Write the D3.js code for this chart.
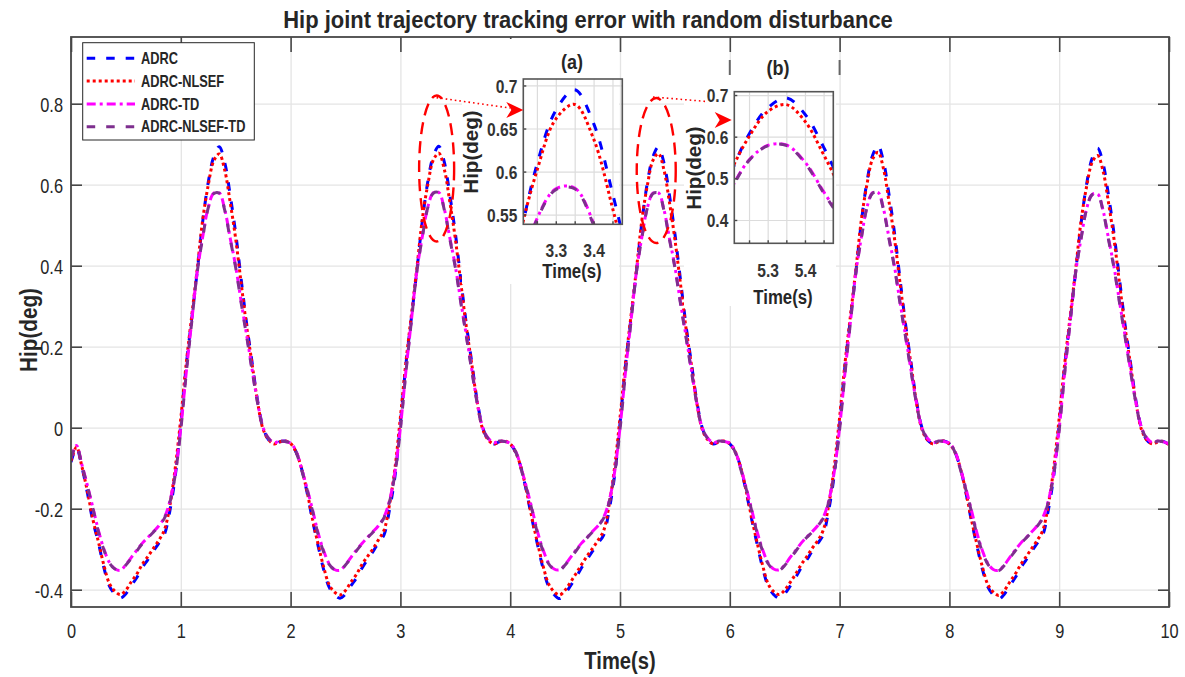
<!DOCTYPE html>
<html>
<head>
<meta charset="utf-8">
<script src="https://cdn.jsdelivr.net/npm/d3@7"></script>
<style>
  body { margin: 0; background: #fff; }
  svg { display: block; }
  text { font-family: "Liberation Sans", Arial, Helvetica, sans-serif; fill: #262626; }
</style>
</head>
<body>
<svg id="chart" width="1185" height="677"></svg>
<script>
// sampled every 0.05 s, 0 .. 10 s (one row = one 2 s gait cycle)
const time = d3.range(201).map(i => +(i * 0.05).toFixed(2));

const adrc = [
  -0.085,-0.050,-0.098,-0.162,-0.232,-0.284,-0.346,-0.391,-0.411,-0.421, -0.410,-0.389,-0.370,-0.345,-0.326,-0.305,-0.285,-0.264,-0.206,-0.118,
   0.008, 0.155, 0.270, 0.387, 0.510, 0.606, 0.669, 0.694, 0.655, 0.574,  0.480, 0.366, 0.256, 0.160, 0.066, 0.000,-0.030,-0.040,-0.035,-0.033,
  -0.039,-0.060,-0.101,-0.160,-0.229,-0.291,-0.349,-0.393,-0.413,-0.421, -0.411,-0.390,-0.371,-0.347,-0.326,-0.306,-0.284,-0.265,-0.204,-0.121,
   0.011, 0.156, 0.271, 0.388, 0.511, 0.608, 0.671, 0.695, 0.656, 0.575,  0.481, 0.367, 0.257, 0.161, 0.066, 0.000,-0.030,-0.040,-0.035,-0.033,
  -0.040,-0.061,-0.100,-0.160,-0.228,-0.290,-0.348,-0.392,-0.412,-0.422, -0.410,-0.390,-0.369,-0.346,-0.325,-0.305,-0.285,-0.266,-0.205,-0.120,
   0.010, 0.154, 0.270, 0.386, 0.509, 0.606, 0.669, 0.693, 0.654, 0.575,  0.479, 0.367, 0.255, 0.160, 0.065,-0.001,-0.030,-0.040,-0.035,-0.033,
  -0.040,-0.060,-0.099,-0.159,-0.227,-0.289,-0.347,-0.392,-0.412,-0.421, -0.410,-0.391,-0.370,-0.346,-0.327,-0.305,-0.286,-0.265,-0.205,-0.119,
   0.010, 0.156, 0.272, 0.389, 0.512, 0.609, 0.672, 0.697, 0.657, 0.576,  0.481, 0.368, 0.257, 0.161, 0.066, 0.000,-0.030,-0.040,-0.035,-0.033,
  -0.040,-0.060,-0.100,-0.160,-0.229,-0.291,-0.349,-0.393,-0.413,-0.423, -0.411,-0.390,-0.370,-0.346,-0.326,-0.305,-0.285,-0.265,-0.205,-0.120,
   0.009, 0.153, 0.268, 0.385, 0.506, 0.602, 0.665, 0.690, 0.652, 0.572,  0.478, 0.365, 0.254, 0.159, 0.065,-0.001,-0.031,-0.040,-0.035,-0.034,
  -0.042
];

const adrcNlsef = [
  -0.082,-0.048,-0.097,-0.158,-0.227,-0.282,-0.340,-0.385,-0.404,-0.412, -0.401,-0.380,-0.361,-0.337,-0.318,-0.298,-0.278,-0.253,-0.193,-0.098,
   0.023, 0.160, 0.277, 0.393, 0.514, 0.599, 0.659, 0.676, 0.636, 0.556,  0.466, 0.356, 0.249, 0.156, 0.062,-0.004,-0.030,-0.040,-0.035,-0.033,
  -0.039,-0.060,-0.101,-0.158,-0.226,-0.287,-0.343,-0.387,-0.406,-0.413, -0.402,-0.381,-0.362,-0.338,-0.318,-0.299,-0.277,-0.254,-0.191,-0.101,
   0.026, 0.161, 0.278, 0.394, 0.516, 0.601, 0.661, 0.678, 0.638, 0.558,  0.467, 0.358, 0.250, 0.157, 0.062,-0.004,-0.030,-0.040,-0.035,-0.033,
  -0.040,-0.061,-0.100,-0.158,-0.225,-0.286,-0.342,-0.386,-0.405,-0.413, -0.401,-0.381,-0.360,-0.338,-0.317,-0.298,-0.278,-0.255,-0.192,-0.100,
   0.024, 0.159, 0.276, 0.392, 0.514, 0.600, 0.660, 0.677, 0.637, 0.557,  0.465, 0.357, 0.248, 0.156, 0.061,-0.005,-0.030,-0.040,-0.035,-0.033,
  -0.040,-0.060,-0.099,-0.157,-0.224,-0.285,-0.341,-0.386,-0.405,-0.412, -0.401,-0.382,-0.361,-0.338,-0.319,-0.298,-0.279,-0.254,-0.192,-0.099,
   0.025, 0.161, 0.279, 0.395, 0.517, 0.602, 0.663, 0.680, 0.639, 0.558,  0.467, 0.358, 0.250, 0.157, 0.062,-0.004,-0.030,-0.040,-0.035,-0.033,
  -0.040,-0.060,-0.100,-0.158,-0.226,-0.287,-0.343,-0.387,-0.406,-0.414, -0.402,-0.381,-0.361,-0.338,-0.318,-0.298,-0.278,-0.254,-0.192,-0.100,
   0.024, 0.158, 0.275, 0.391, 0.512, 0.596, 0.655, 0.672, 0.633, 0.554,  0.464, 0.355, 0.247, 0.155, 0.061,-0.005,-0.031,-0.040,-0.035,-0.034,
  -0.042
];

const adrcTd = [
  -0.075,-0.044,-0.092,-0.143,-0.198,-0.254,-0.300,-0.333,-0.348,-0.352, -0.338,-0.320,-0.302,-0.285,-0.271,-0.257,-0.242,-0.222,-0.182,-0.111,
   0.000, 0.138, 0.264, 0.386, 0.472, 0.544, 0.579, 0.580, 0.539, 0.468,  0.398, 0.311, 0.228, 0.143, 0.062, 0.000,-0.026,-0.037,-0.033,-0.034,
  -0.038,-0.058,-0.101,-0.150,-0.203,-0.259,-0.303,-0.335,-0.350,-0.352, -0.338,-0.320,-0.302,-0.286,-0.271,-0.257,-0.242,-0.221,-0.181,-0.110,
   0.001, 0.139, 0.265, 0.387, 0.473, 0.545, 0.580, 0.581, 0.540, 0.469,  0.399, 0.312, 0.229, 0.144, 0.062, 0.000,-0.026,-0.037,-0.033,-0.034,
  -0.039,-0.058,-0.100,-0.149,-0.202,-0.258,-0.302,-0.334,-0.349,-0.351, -0.338,-0.320,-0.302,-0.285,-0.271,-0.256,-0.242,-0.222,-0.182,-0.111,
   0.000, 0.138, 0.264, 0.386, 0.472, 0.544, 0.579, 0.580, 0.539, 0.468,  0.398, 0.311, 0.228, 0.143, 0.061,-0.001,-0.026,-0.037,-0.033,-0.034,
  -0.038,-0.059,-0.100,-0.149,-0.203,-0.258,-0.302,-0.334,-0.349,-0.351, -0.339,-0.320,-0.303,-0.285,-0.270,-0.257,-0.242,-0.222,-0.182,-0.111,
   0.000, 0.139, 0.265, 0.387, 0.473, 0.545, 0.580, 0.581, 0.540, 0.469,  0.398, 0.311, 0.228, 0.143, 0.062, 0.000,-0.026,-0.037,-0.033,-0.034,
  -0.038,-0.058,-0.100,-0.150,-0.203,-0.259,-0.303,-0.335,-0.350,-0.352, -0.339,-0.320,-0.302,-0.285,-0.271,-0.257,-0.242,-0.222,-0.182,-0.111,
  -0.001, 0.137, 0.263, 0.384, 0.469, 0.541, 0.576, 0.577, 0.536, 0.466,  0.396, 0.310, 0.227, 0.142, 0.061, 0.000,-0.026,-0.037,-0.033,-0.035,
  -0.040
];

const adrcNlsefTd = [
  -0.075,-0.045,-0.094,-0.145,-0.200,-0.257,-0.302,-0.334,-0.349,-0.353, -0.339,-0.322,-0.304,-0.286,-0.272,-0.258,-0.243,-0.224,-0.185,-0.115,
  -0.005, 0.135, 0.262, 0.385, 0.470, 0.543, 0.578, 0.579, 0.537, 0.465,  0.395, 0.308, 0.225, 0.140, 0.060,-0.002,-0.027,-0.038,-0.033,-0.034,
  -0.038,-0.060,-0.104,-0.153,-0.206,-0.263,-0.306,-0.337,-0.351,-0.353, -0.339,-0.322,-0.304,-0.287,-0.272,-0.258,-0.243,-0.223,-0.184,-0.114,
  -0.004, 0.136, 0.263, 0.386, 0.471, 0.544, 0.579, 0.580, 0.538, 0.466,  0.396, 0.309, 0.226, 0.141, 0.060,-0.002,-0.027,-0.038,-0.033,-0.034,
  -0.039,-0.060,-0.103,-0.152,-0.205,-0.262,-0.305,-0.336,-0.350,-0.352, -0.339,-0.321,-0.304,-0.286,-0.272,-0.257,-0.243,-0.224,-0.185,-0.115,
  -0.005, 0.135, 0.262, 0.385, 0.470, 0.543, 0.578, 0.579, 0.537, 0.465,  0.395, 0.308, 0.225, 0.140, 0.059,-0.003,-0.027,-0.038,-0.033,-0.034,
  -0.038,-0.061,-0.103,-0.152,-0.206,-0.262,-0.305,-0.336,-0.350,-0.352, -0.340,-0.322,-0.305,-0.286,-0.271,-0.258,-0.243,-0.224,-0.185,-0.115,
  -0.005, 0.136, 0.263, 0.386, 0.471, 0.544, 0.579, 0.580, 0.538, 0.466,  0.395, 0.308, 0.225, 0.140, 0.060,-0.002,-0.027,-0.038,-0.033,-0.034,
  -0.038,-0.060,-0.103,-0.153,-0.206,-0.263,-0.306,-0.337,-0.351,-0.353, -0.340,-0.322,-0.304,-0.286,-0.272,-0.258,-0.243,-0.224,-0.185,-0.115,
  -0.006, 0.134, 0.261, 0.383, 0.468, 0.540, 0.575, 0.576, 0.534, 0.463,  0.393, 0.307, 0.224, 0.139, 0.059,-0.002,-0.027,-0.038,-0.033,-0.035,
  -0.040
];

const xTicks = [0, 1, 2, 3, 4, 5, 6, 7, 8, 9, 10];
const yTicks = [-0.4, -0.2, 0, 0.2, 0.4, 0.6, 0.8];
const yTickLabels = ['-0.4', '-0.2', '0', '0.2', '0.4', '0.6', '0.8'];

const insetATicksX = [3.25, 3.3, 3.35, 3.4, 3.45];
const insetALabelsX = ['', '3.3', '', '3.4', ''];
const insetATicksY = [0.55, 0.6, 0.65, 0.7];
const insetALabelsY = ['0.55', '0.6', '0.65', '0.7'];
const insetBTicksX = [5.25, 5.3, 5.35, 5.4, 5.45];
const insetBLabelsX = ['', '5.3', '', '5.4', ''];
const insetBTicksY = [0.4, 0.5, 0.6, 0.7];
const insetBLabelsY = ['0.4', '0.5', '0.6', '0.7'];

const series = [
  { name: 'ADRC', values: adrc, color: '#0000ff', dash: '8.5,11' },
  { name: 'ADRC-NLSEF', values: adrcNlsef, color: '#ff0000', dash: '3,3' },
  { name: 'ADRC-TD', values: adrcTd, color: '#ff00ff', dash: '9,4,3,4' },
  { name: 'ADRC-NLSEF-TD', values: adrcNlsefTd, color: '#7e2f8e', dash: '8.5,11' }
];

const SX = 0.78; // the figure's lettering is condensed
const axisColor = '#474747';
const gridColor = '#e4e4e4';

const svg = d3.select('#chart');
const box = { left: 71, right: 1169, top: 37, bottom: 607 };

const x = d3.scaleLinear().domain([0, 10]).range([box.left, box.right]);
const y = d3.scaleLinear().domain([-0.4427, 0.9647]).range([box.bottom, box.top]);

function hText(g, px, py, str, size, weight, anchor, sx = SX) {
  return g.append('text')
    .attr('transform', `translate(${px},${py}) scale(${sx},1)`)
    .attr('text-anchor', anchor || 'middle')
    .attr('dy', '0.35em')
    .style('font-size', size + 'px')
    .style('font-weight', weight || 'normal')
    .text(str);
}

// rotated labels keep their full letter height
function vText(g, px, py, str, size, len = 0.92) {
  return g.append('text')
    .attr('transform', `translate(${px},${py}) rotate(-90) scale(${len},1)`)
    .attr('text-anchor', 'middle')
    .attr('dy', '0.35em')
    .style('font-size', size + 'px')
    .style('font-weight', 'bold')
    .text(str);
}

function lineFor(xs, ys) {
  return d3.line()
    .x((d, i) => xs(time[i]))
    .y(d => ys(d))
    .curve(d3.curveCatmullRom.alpha(0.5));
}

function drawSeries(g, xs, ys) {
  const gen = lineFor(xs, ys);
  g.selectAll('path.series')
    .data(series)
    .enter()
    .append('path')
    .attr('class', 'series')
    .attr('d', d => gen(d.values))
    .attr('fill', 'none')
    .attr('stroke', d => d.color)
    .attr('stroke-width', 3)
    .attr('stroke-dasharray', d => d.dash);
}

// ---- main axes ----
const defs = svg.append('defs');
defs.append('clipPath').attr('id', 'clipMain')
  .append('rect')
  .attr('x', box.left).attr('y', box.top)
  .attr('width', box.right - box.left).attr('height', box.bottom - box.top);

const grid = svg.append('g');
grid.append('g')
  .attr('transform', `translate(0,${box.bottom})`)
  .call(d3.axisBottom(x).tickValues(xTicks).tickSize(-(box.bottom - box.top)).tickFormat(''));
grid.append('g')
  .attr('transform', `translate(${box.left},0)`)
  .call(d3.axisLeft(y).tickValues(yTicks).tickSize(-(box.right - box.left)).tickFormat(''));
grid.selectAll('.domain').remove();
grid.selectAll('line').attr('stroke', gridColor).attr('stroke-width', 1.3);

const curves = svg.append('g').attr('clip-path', 'url(#clipMain)');
drawSeries(curves, x, y);

const axes = svg.append('g');
const gx = axes.append('g')
  .attr('transform', `translate(0,${box.bottom})`)
  .call(d3.axisBottom(x).tickValues(xTicks).tickSizeInner(-15).tickSizeOuter(0).tickFormat(d3.format('d')));
gx.selectAll('text').attr('y', 24).attr('dy', '0.35em').attr('transform', `scale(${SX},1)`);

const gy = axes.append('g')
  .attr('transform', `translate(${box.left},0)`)
  .call(d3.axisLeft(y).tickValues(yTicks).tickSizeInner(-11).tickSizeOuter(0).tickFormat((d, i) => yTickLabels[i]));
gy.selectAll('text').attr('x', null).attr('dy', '0.35em').attr('transform', `translate(-8,0) scale(${SX},1)`);

axes.append('g')
  .attr('transform', `translate(0,${box.top})`)
  .call(d3.axisTop(x).tickValues(xTicks).tickSizeInner(-15).tickSizeOuter(0).tickFormat(''));
axes.append('g')
  .attr('transform', `translate(${box.right},0)`)
  .call(d3.axisRight(y).tickValues(yTicks).tickSizeInner(-11).tickSizeOuter(0).tickFormat(''));

axes.selectAll('.domain').remove();
axes.selectAll('line').attr('stroke', axisColor).attr('stroke-width', 1.6);
axes.selectAll('text').style('font-size', '21px').style('fill', '#262626').attr('font-family', null);
axes.append('rect')
  .attr('x', box.left).attr('y', box.top)
  .attr('width', box.right - box.left).attr('height', box.bottom - box.top)
  .attr('fill', 'none').attr('stroke', axisColor).attr('stroke-width', 1.8);

hText(svg, (box.left + box.right) / 2, 661, 'Time(s)', 24, 'bold', 'middle', 0.84);
vText(svg, 29, 330, 'Hip(deg)', 23, 0.9);

const title = svg.append('text')
  .attr('text-anchor', 'middle')
  .attr('dy', '0.35em')
  .style('font-size', '23px')
  .style('font-weight', 'bold')
  .text('Hip joint trajectory tracking error with random disturbance');
const titleW = title.node().getComputedTextLength();
title.attr('transform', `translate(588,20) scale(${610 / titleW},1)`);

// ---- legend ----
const legend = svg.append('g');
legend.append('rect')
  .attr('x', 82.7).attr('y', 42.7).attr('width', 171.6).attr('height', 97.3)
  .attr('fill', '#fff').attr('stroke', '#262626').attr('stroke-width', 1);
const rows = legend.selectAll('g.row').data(series).enter().append('g').attr('class', 'row')
  .attr('transform', (d, i) => `translate(0,${58.3 + i * 22.8})`);
rows.append('line')
  .attr('x1', 86.7).attr('x2', 135).attr('y1', 0).attr('y2', 0)
  .attr('stroke', d => d.color).attr('stroke-width', 3).attr('stroke-dasharray', d => d.dash);
rows.each(function (d) { hText(d3.select(this), 141, 0, d.name, 16, 'bold', 'start', 0.8); });

// ---- zoom annotations on the main plot ----
const ann = svg.append('g');
function ellipseAt(t, v, rx, ry) {
  ann.append('ellipse')
    .attr('cx', x(t)).attr('cy', y(v)).attr('rx', rx).attr('ry', ry)
    .attr('fill', 'none').attr('stroke', '#ff0000').attr('stroke-width', 2.4)
    .attr('stroke-dasharray', '12,7');
}
function dotted(x1, y1, x2, y2) {
  ann.append('line')
    .attr('x1', x1).attr('y1', y1).attr('x2', x2).attr('y2', y2)
    .attr('stroke', '#ff0000').attr('stroke-width', 1.6).attr('stroke-dasharray', '1.6,3');
}
function arrowHead(tx, ty) {
  ann.append('path')
    .attr('d', `M${tx},${ty} L${tx - 17},${ty - 8} L${tx - 12},${ty} L${tx - 17},${ty + 8} Z`)
    .attr('fill', '#ff0000');
}

// ---- insets ----
function drawInset(cfg) {
  const g = svg.append('g');
  g.append('rect')
    .attr('x', cfg.bg[0]).attr('y', cfg.bg[1]).attr('width', cfg.bg[2]).attr('height', cfg.bg[3])
    .attr('fill', '#fff');

  const xs = d3.scaleLinear().domain(cfg.xDomain).range([cfg.box.left, cfg.box.right]);
  const ys = d3.scaleLinear().domain(cfg.yDomain).range([cfg.box.bottom, cfg.box.top]);
  const w = cfg.box.right - cfg.box.left, h = cfg.box.bottom - cfg.box.top;

  const gg = g.append('g');
  gg.append('g').attr('transform', `translate(0,${cfg.box.bottom})`)
    .call(d3.axisBottom(xs).tickValues(cfg.ticksX).tickSize(-h).tickFormat(''));
  gg.append('g').attr('transform', `translate(${cfg.box.left},0)`)
    .call(d3.axisLeft(ys).tickValues(cfg.ticksY).tickSize(-w).tickFormat(''));
  gg.selectAll('.domain').remove();
  gg.selectAll('line').attr('stroke', '#dcdcdc').attr('stroke-width', 1.2);

  defs.append('clipPath').attr('id', cfg.id)
    .append('rect').attr('x', cfg.box.left).attr('y', cfg.box.top).attr('width', w).attr('height', h);
  const c = g.append('g').attr('clip-path', `url(#${cfg.id})`);
  drawSeries(c, xs, ys);

  const ax = g.append('g');
  const bx = ax.append('g').attr('transform', `translate(0,${cfg.box.bottom})`)
    .call(d3.axisBottom(xs).tickValues(cfg.ticksX).tickSizeInner(-3).tickSizeOuter(0)
      .tickFormat((d, i) => cfg.labelsX[i]));
  bx.selectAll('text').attr('y', cfg.xLabelY - cfg.box.bottom).attr('dy', '0.35em')
    .attr('transform', 'scale(0.82,1)');
  const by = ax.append('g').attr('transform', `translate(${cfg.box.left},0)`)
    .call(d3.axisLeft(ys).tickValues(cfg.ticksY).tickSizeInner(-3).tickSizeOuter(0)
      .tickFormat((d, i) => cfg.labelsY[i]));
  by.selectAll('text').attr('x', null).attr('dy', '0.35em')
    .attr('transform', 'translate(-6,0) scale(0.82,1)');
  ax.selectAll('.domain').remove();
  ax.selectAll('line').attr('stroke', axisColor).attr('stroke-width', 1.4);
  ax.selectAll('text').style('font-size', '19px').style('font-weight', 'bold')
    .style('fill', '#333').attr('font-family', null);
  ax.append('rect')
    .attr('x', cfg.box.left).attr('y', cfg.box.top).attr('width', w).attr('height', h)
    .attr('fill', 'none').attr('stroke', '#555').attr('stroke-width', 1.6);

  hText(g, cfg.titlePos[0], cfg.titlePos[1], cfg.title, 20, 'bold', 'middle', 0.9);
  hText(g, cfg.xTitlePos[0], cfg.xTitlePos[1], 'Time(s)', 21, 'bold', 'middle', 0.8);
  vText(g, cfg.yTitlePos[0], cfg.yTitlePos[1], 'Hip(deg)', 21, 0.98);
  return g;
}

ellipseAt(3.33, 0.64, 17.5, 73);
ellipseAt(5.33, 0.635, 19.5, 72.5);

drawInset({
  id: 'clipA', title: '(a)',
  bg: [462, 39, 157, 245],
  box: { left: 523.3, right: 622.3, top: 79, bottom: 224.3 },
  xDomain: [3.214, 3.476], yDomain: [0.5388, 0.7075],
  ticksX: insetATicksX, labelsX: insetALabelsX, ticksY: insetATicksY, labelsY: insetALabelsY,
  xLabelY: 250, titlePos: [572, 62], xTitlePos: [572, 271], yTitlePos: [471, 152]
});

const gb = drawInset({
  id: 'clipB', title: '(b)',
  bg: [684, 60, 152, 246],
  box: { left: 734.3, right: 833.3, top: 91.7, bottom: 243.3 },
  xDomain: [5.2105, 5.476], yDomain: [0.344, 0.708],
  ticksX: insetBTicksX, labelsX: insetBLabelsX, ticksY: insetBTicksY, labelsY: insetBLabelsY,
  xLabelY: 270, titlePos: [778, 68], xTitlePos: [783, 297], yTitlePos: [694, 168]
});
// stray top tick marks that sit at the corners of inset (b)
[6, 7].forEach(t => {
  gb.append('line').attr('x1', x(t)).attr('x2', x(t)).attr('y1', 60).attr('y2', 75)
    .attr('stroke', '#666').attr('stroke-width', 2);
});

svg.node().appendChild(ann.node());
dotted(432, 97, 510, 108);
arrowHead(523.3, 110);
dotted(653, 97, 707, 101.5);
arrowHead(731.7, 120);
</script>
</body>
</html>
